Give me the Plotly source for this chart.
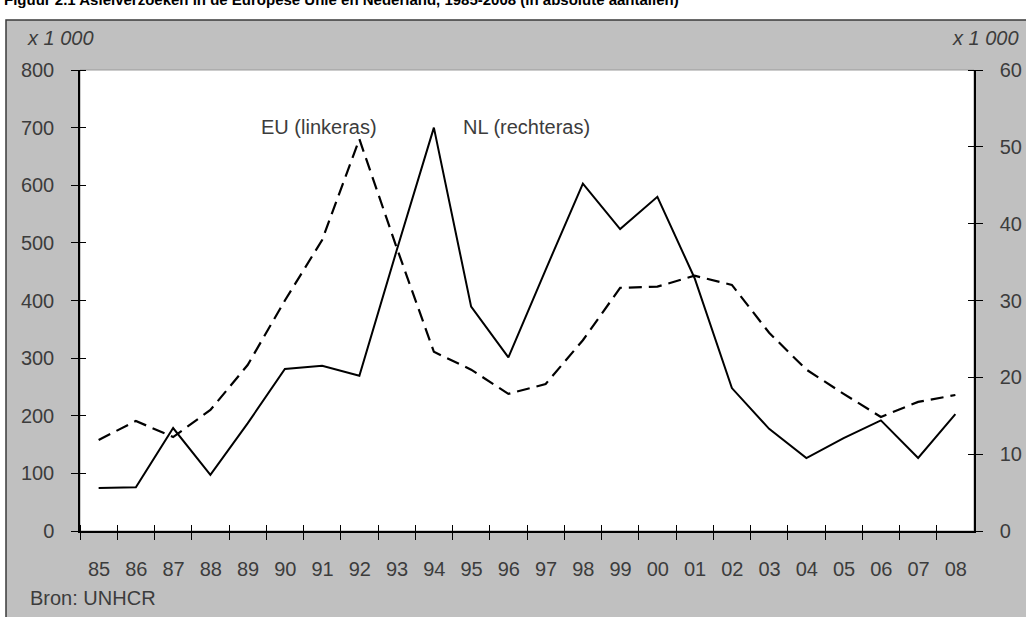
import plotly.graph_objects as go

# Asielverzoeken, x 1 000
years = ["85", "86", "87", "88", "89", "90", "91", "92", "93", "94", "95", "96",
         "97", "98", "99", "00", "01", "02", "03", "04", "05", "06", "07", "08"]
eu = [158, 191, 163, 210, 288, 400, 505, 680, 492, 311, 280, 238,
      255, 331, 422, 424, 443, 427, 344, 280, 238, 198, 224, 236]
nl = [5.6, 5.7, 13.4, 7.3, 14.0, 21.1, 21.5, 20.2, 36.5, 52.5, 29.2, 22.6,
      34.0, 45.2, 39.3, 43.5, 32.9, 18.6, 13.3, 9.5, 12.1, 14.4, 9.5, 15.2]

W, H = 1026, 617
L, R, T, B = 80, 52, 70, 86
pw, ph = W - L - R, H - T - B


def px(x):
    return (x - L) / pw


def py(y):
    return (H - B - y) / ph


FONT = "Liberation Sans, Arial, sans-serif"
TXT = "#3c3c3c"

xi = list(range(len(years)))
bounds = [i - 0.5 for i in range(len(years) + 1)]

fig = go.Figure()

fig.add_trace(go.Scatter(
    x=xi, y=eu, mode="lines", name="EU",
    line=dict(color="black", width=2.2, dash="13px,7px"),
    yaxis="y", hoverinfo="skip",
))
fig.add_trace(go.Scatter(
    x=xi, y=nl, mode="lines", name="NL",
    line=dict(color="black", width=2),
    yaxis="y2", hoverinfo="skip",
))

# gray panel + white plot area
fig.add_shape(type="rect", xref="paper", yref="paper",
              x0=px(6), x1=px(W + 10), y0=py(H + 10), y1=py(20),
              fillcolor="#c0c0c0", line=dict(color="#3a3a3a", width=1.5), layer="below")
fig.add_shape(type="rect", xref="x domain", yref="y domain",
              x0=0, x1=1, y0=0, y1=1,
              fillcolor="white", line=dict(color="#9a9a9a", width=1), layer="below")

axis_common = dict(
    showgrid=False, zeroline=False, showline=True, linecolor="black", linewidth=1.5,
    ticks="outside", ticklen=7, tickwidth=1.2, tickcolor="black",
    tickfont=dict(family=FONT, size=20, color=TXT),
)

fig.update_layout(
    width=W, height=H,
    margin=dict(l=L, r=R, t=T, b=B, autoexpand=False),
    paper_bgcolor="white", plot_bgcolor="white",
    showlegend=False,
    xaxis=dict(
        **axis_common,
        range=[-0.5, len(years) - 0.5],
        tickmode="array", tickvals=bounds, ticktext=years + [""],
        ticklabelshift=19, ticklabelstandoff=12,
        minor=dict(ticks="inside", ticklen=6, tickwidth=1.2, tickcolor="black",
                   tickmode="array", tickvals=bounds),
    ),
    yaxis=dict(
        **axis_common,
        range=[0, 800], tickmode="linear", tick0=0, dtick=100,
        ticklabelstandoff=13,
        minor=dict(ticks="inside", ticklen=6, tickwidth=1.2, tickcolor="black",
                   tickmode="linear", tick0=0, dtick=100),
    ),
    yaxis2=dict(
        **axis_common,
        overlaying="y", side="right", anchor="x",
        range=[0, 60], tickmode="linear", tick0=0, dtick=10,
        ticklabelstandoff=13,
        minor=dict(ticks="inside", ticklen=6, tickwidth=1.2, tickcolor="black",
                   tickmode="linear", tick0=0, dtick=10),
    ),
)

ann = dict(xref="paper", yref="paper", showarrow=False,
           font=dict(family=FONT, size=20, color=TXT))
fig.add_annotation(**ann, text="Figuur 2.1 Asielverzoeken in de Europese Unie en Nederland, 1985-2008 (in absolute aantallen)",
                   x=px(2), y=py(10), xanchor="left", yanchor="bottom")
fig.layout.annotations[-1].font = dict(family=FONT, size=15, color="black", weight="bold")
fig.add_annotation(**ann, text="<i>x 1 000</i>", x=px(25), y=py(38), xanchor="left", yanchor="middle")
fig.add_annotation(**ann, text="<i>x 1 000</i>", x=px(1021), y=py(38), xanchor="right", yanchor="middle")
fig.add_annotation(**ann, text="EU (linkeras)", x=px(319), y=py(127), xanchor="center", yanchor="middle")
fig.add_annotation(**ann, text="NL (rechteras)", x=px(526), y=py(127), xanchor="center", yanchor="middle")
fig.add_annotation(**ann, text="Bron: UNHCR", x=px(28), y=py(598), xanchor="left", yanchor="middle")

# page default body margin would push the figure 8px down/right
fig.write_html("out.html", config=dict(displayModeBar=False),
               post_script="document.body.style.margin='0';document.body.style.overflow='hidden';")
